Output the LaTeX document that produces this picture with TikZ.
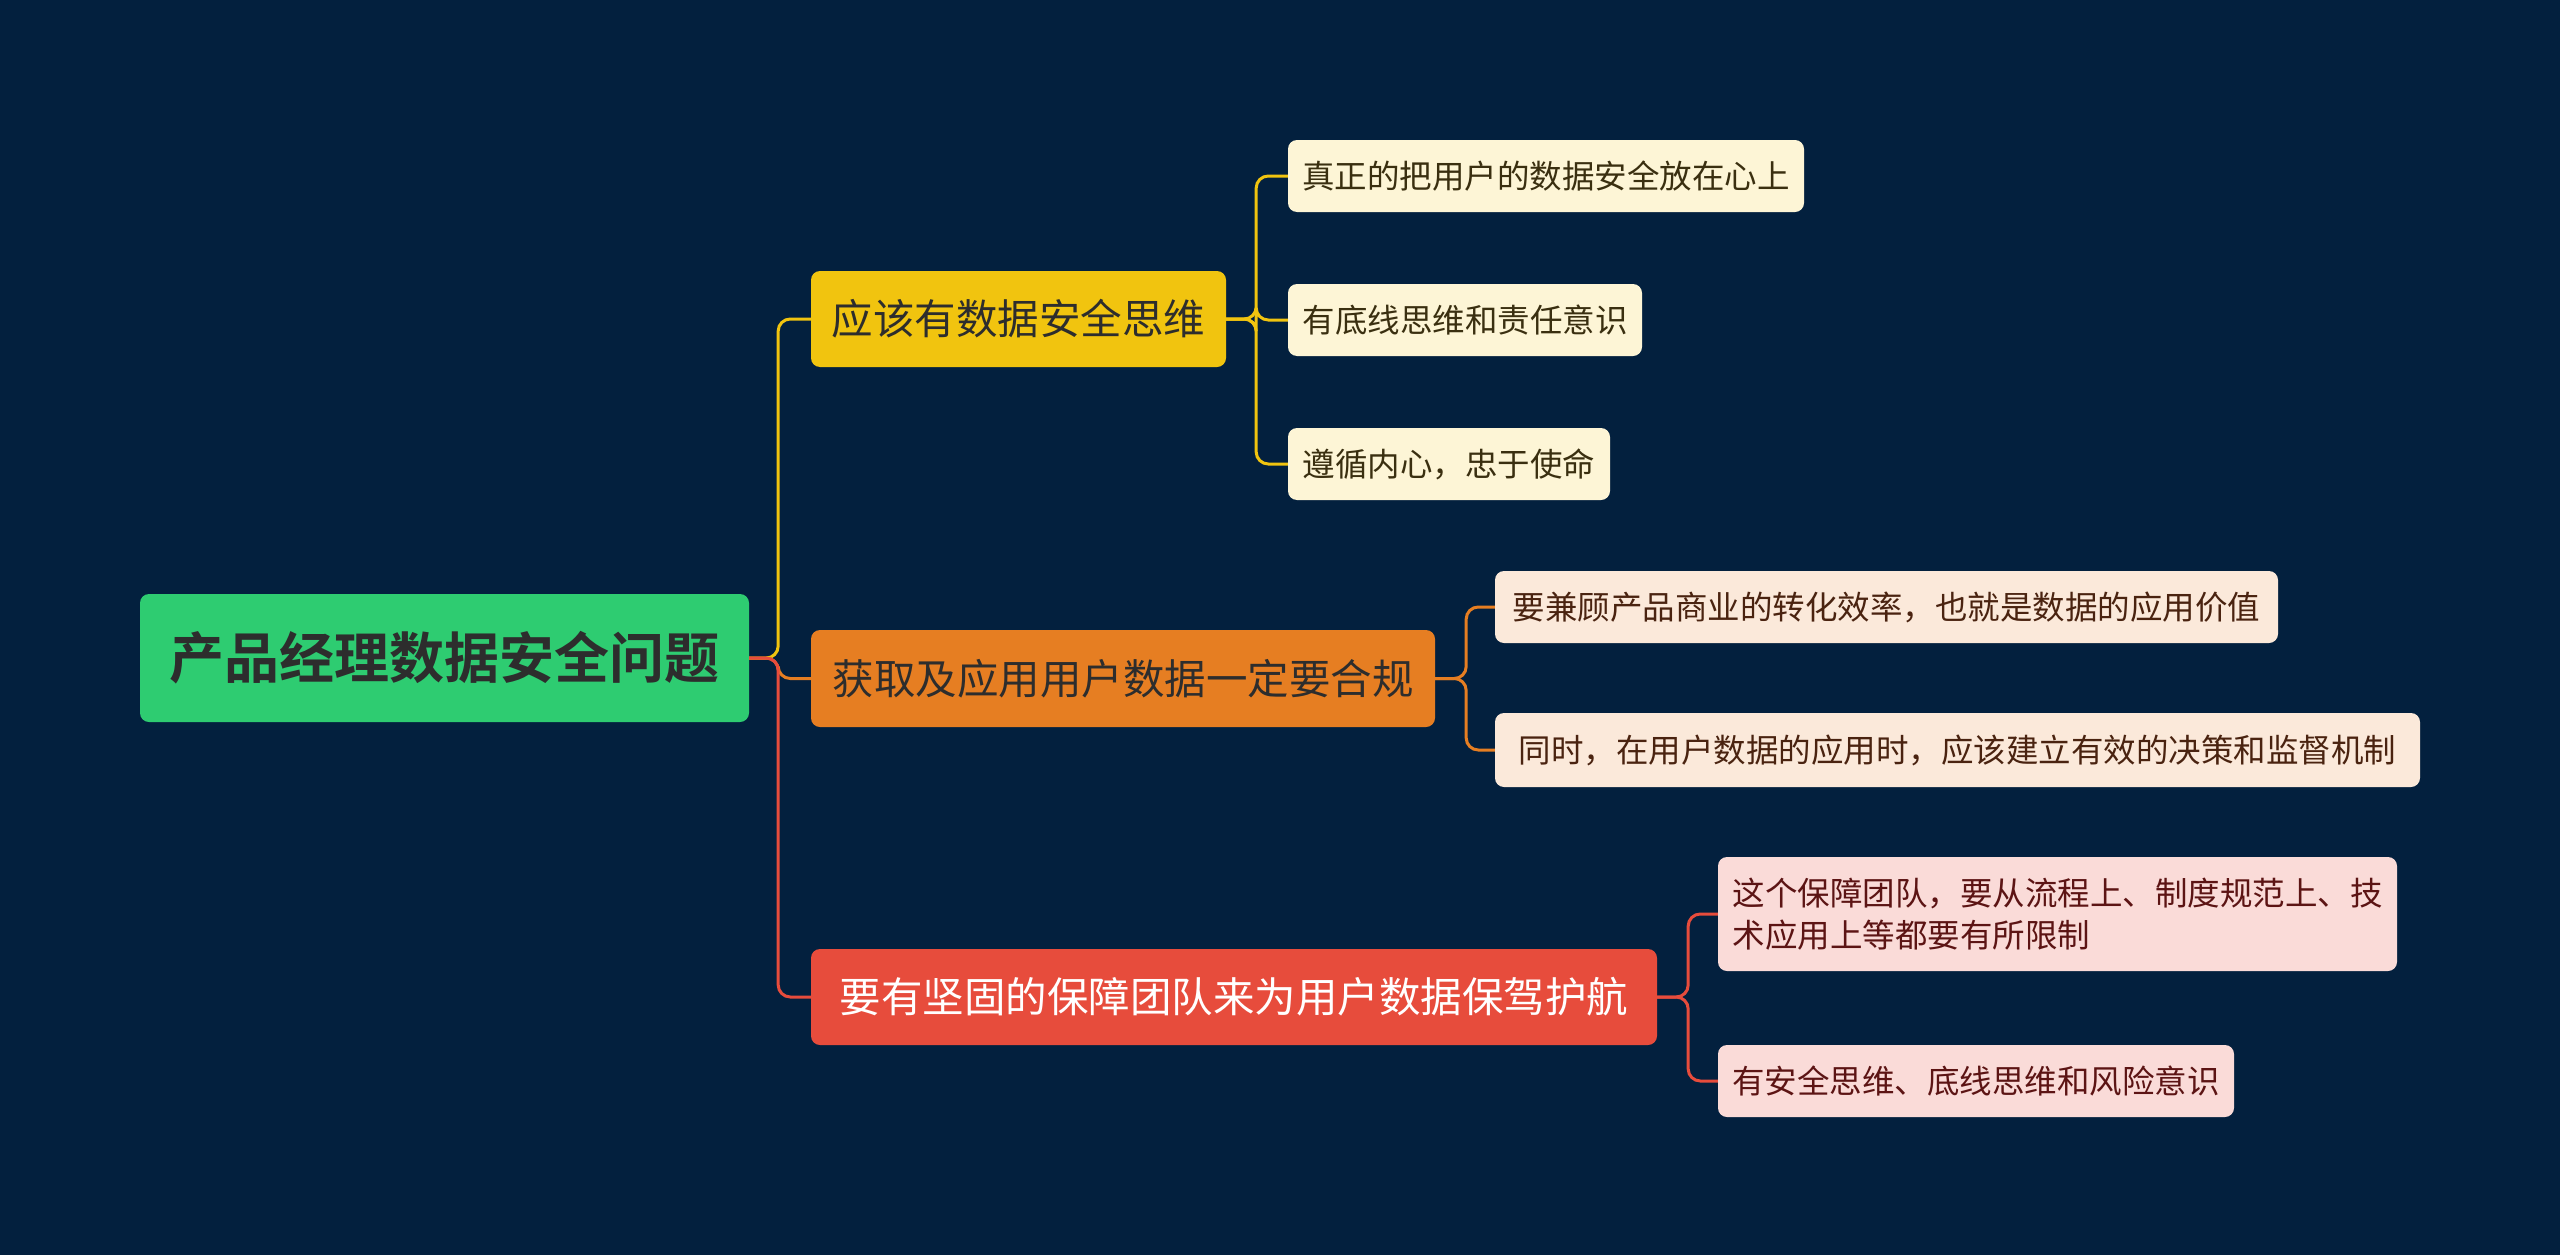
\documentclass[tikz,border=0pt]{standalone}
\usepackage{fontspec}
\setmainfont{Noto Sans CJK SC}
\newfontfamily\cjkbold{Noto Sans CJK SC Bold}
\definecolor{bg}{HTML}{03203E}
\definecolor{cgreen}{HTML}{2ECC71}
\definecolor{cyel}{HTML}{F1C40F}
\definecolor{corg}{HTML}{E67E22}
\definecolor{cred}{HTML}{E74C3C}
\definecolor{lyel}{HTML}{FDF5D6}
\definecolor{lorg}{HTML}{FBE9DA}
\definecolor{lred}{HTML}{FADBD8}
\definecolor{tdark}{HTML}{2D2D2D}
\definecolor{tyel}{HTML}{3A2F10}
\definecolor{torg}{HTML}{4A2310}
\definecolor{tred}{HTML}{5C1414}
\tikzset{
  box/.style={rounded corners=9pt, inner sep=0pt, align=center},
  rootbox/.style={box, fill=cgreen, text=tdark, font=\cjkbold\fontsize{55}{66}\selectfont},
  brbox/.style={box, font=\fontsize{41.5}{50}\selectfont},
  leafbox/.style={box, minimum height=72pt, font=\fontsize{32.5}{42}\selectfont},
  conn/.style={line width=3pt, rounded corners=12pt},
}
\begin{document}
\begin{tikzpicture}[x=1pt,y=-1pt]
\fill[bg] (0,0) rectangle (2560,1255);
\useasboundingbox (0,0) rectangle (2560,1255);

% root
\node[rootbox, minimum width=609pt, minimum height=128pt] (root) at (444.5,658) {产品经理数据安全问题};

% branches
\node[brbox, fill=cyel, text=tdark, minimum width=415pt, minimum height=96pt] (b1) at (1018.5,319) {应该有数据安全思维};
\node[brbox, fill=corg, text=tdark, minimum width=624pt, minimum height=97pt] (b2) at (1123,678.5) {获取及应用用户数据一定要合规};
\node[brbox, fill=cred, text=white, minimum width=846pt, minimum height=96pt] (b3) at (1234,997) {要有坚固的保障团队来为用户数据保驾护航};

% leaves
\node[leafbox, fill=lyel, text=tyel, minimum width=516pt] (l1) at (1546,176) {真正的把用户的数据安全放在心上};
\node[leafbox, fill=lyel, text=tyel, minimum width=354pt] (l2) at (1465,320) {有底线思维和责任意识};
\node[leafbox, fill=lyel, text=tyel, minimum width=322pt] (l3) at (1449,464) {遵循内心，忠于使命};
\node[leafbox, fill=lorg, text=torg, minimum width=783pt] (l4) at (1886.5,607) {要兼顾产品商业的转化效率，也就是数据的应用价值};
\node[leafbox, fill=lorg, text=torg, minimum width=925pt, minimum height=74pt] (l5) at (1957.5,750) {同时，在用户数据的应用时，应该建立有效的决策和监督机制};
\node[leafbox, fill=lred, text=tred, minimum width=679pt, minimum height=114pt, align=left] (l6) at (2057.5,914) {这个保障团队，要从流程上、制度规范上、技\\术应用上等都要有所限制};
\node[leafbox, fill=lred, text=tred, minimum width=516pt] (l7) at (1976,1081) {有安全思维、底线思维和风险意识};

% root -> branches
\draw[conn, cyel] (root.east) -- ++(29,0) |- (b1.west);
\draw[conn, corg] (root.east) -- ++(29,0) |- (b2.west);
\draw[conn, cred] (root.east) -- ++(29,0) |- (b3.west);

% b1 -> leaves
\draw[conn, cyel] (b1.east) -- ++(30,0) |- (l1.west);
\draw[conn, cyel] (b1.east) -- ++(30,0) |- (l2.west);
\draw[conn, cyel] (b1.east) -- ++(30,0) |- (l3.west);

% b2 -> leaves
\draw[conn, corg] (b2.east) -- ++(31,0) |- (l4.west);
\draw[conn, corg] (b2.east) -- ++(31,0) |- (l5.west);

% b3 -> leaves
\draw[conn, cred] (b3.east) -- ++(31,0) |- (l6.west);
\draw[conn, cred] (b3.east) -- ++(31,0) |- (l7.west);
\end{tikzpicture}
\end{document}
